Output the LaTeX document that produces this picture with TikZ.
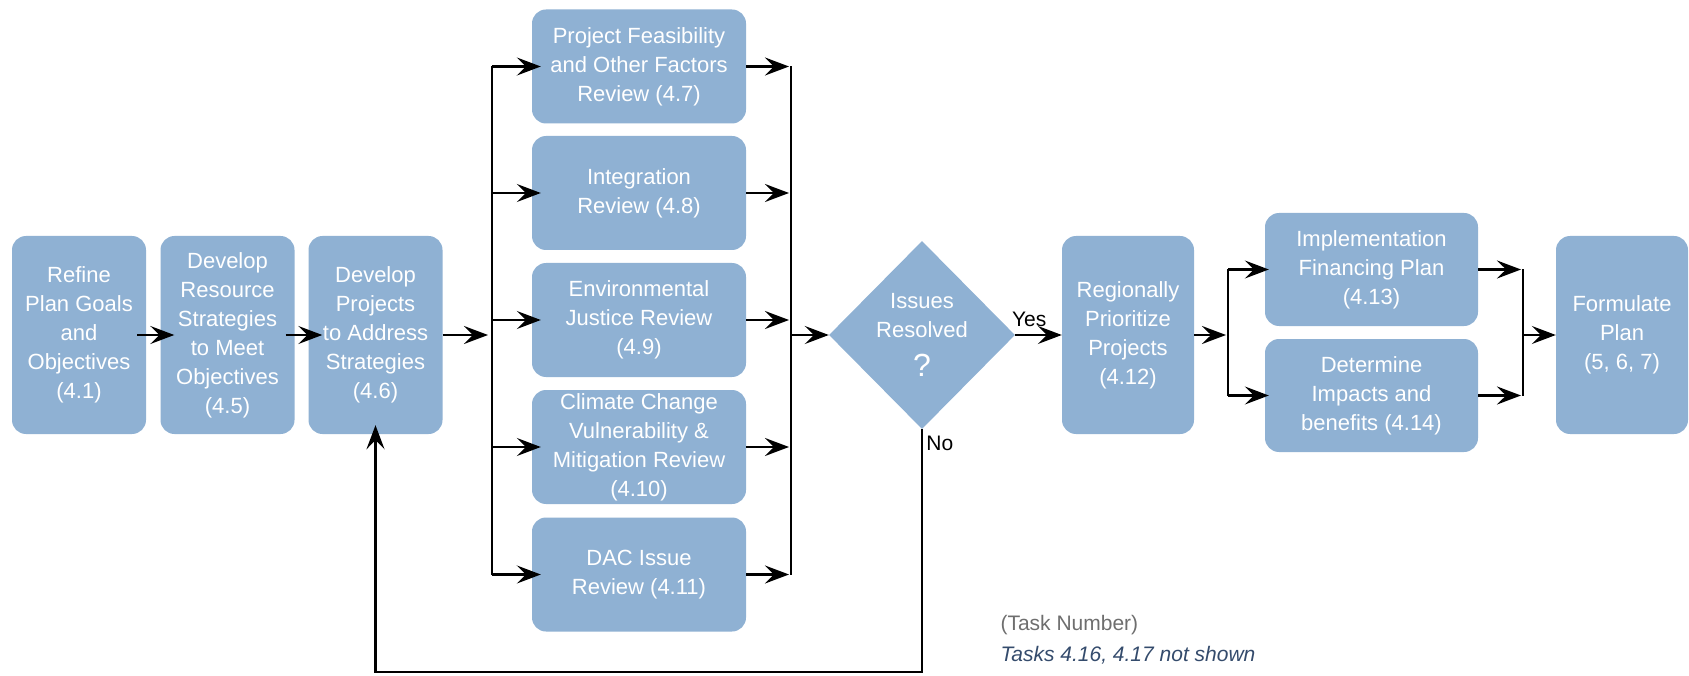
\documentclass[tikz,border=0pt]{standalone}
\usepackage{fontspec}
\setmainfont{Liberation Sans}
\usetikzlibrary{arrows.meta,shapes.geometric}
\definecolor{taskblue}{RGB}{143,177,211}
\definecolor{notegray}{RGB}{110,110,110}
\definecolor{notenavy}{RGB}{52,75,108}

\begin{document}
\begin{tikzpicture}[x=1pt,y=-1pt]
      \tikzset{
        task/.style = {rectangle, rounded corners=14pt, fill=taskblue, text=white,
          align=center, inner sep=0pt, font=\fontsize{22}{29}\selectfont},
        tall/.style = {task, minimum width=134pt, minimum height=198pt},
        wide/.style = {task, minimum width=214pt, minimum height=114pt},
        decide/.style = {diamond, fill=taskblue, text=white, align=center,
          inner sep=0pt, minimum width=186pt, minimum height=188pt,
          font=\fontsize{22}{29}\selectfont},
        link/.style = {line width=2.2pt, -{Stealth[length=24pt,width=18pt,inset=9pt]}},
        into/.style = {link, shorten >=-9pt},
        rail/.style = {line width=2.2pt},
        tag/.style = {font=\fontsize{21}{25}\selectfont}
      }
      \useasboundingbox (0,0) rectangle (1689,676);
      \node[tall] (p41) at (79,335) {Refine\\Plan Goals\\and\\Objectives\\(4.1)};
      \node[tall] (p45) at (227.5,335) {Develop\\Resource\\Strategies\\to Meet\\Objectives\\(4.5)};
      \node[tall] (p46) at (375.5,335) {Develop\\Projects\\to Address\\Strategies\\(4.6)};
      \node[wide] (r47) at (639,66.5) {Project Feasibility\\and Other Factors\\Review (4.7)};
      \node[wide] (r48) at (639,193) {Integration\\Review (4.8)};
      \node[wide] (r49) at (639,320) {Environmental\\Justice Review\\(4.9)};
      \node[wide] (r410) at (639,447) {Climate Change\\Vulnerability \&\\Mitigation Review\\(4.10)};
      \node[wide] (r411) at (639,574.5) {DAC Issue\\Review (4.11)};
      \node[decide] (dec) at (922,335) {Issues\\Resolved\\[10pt]{\fontsize{32}{32}\selectfont ?}};
      \node[tall, minimum width=132pt] (p412) at (1128,335) {Regionally\\Prioritize\\Projects\\(4.12)};
      \node[wide, minimum width=213pt, minimum height=113pt] (p413) at (1371.5,269.5) {Implementation\\Financing Plan\\(4.13)};
      \node[wide, minimum width=213pt, minimum height=113pt] (p414) at (1371.5,395.5) {Determine\\Impacts and\\benefits (4.14)};
      \node[tall, minimum width=132pt] (p5) at (1622,335) {Formulate\\Plan\\(5, 6, 7)};
      \node[tag, text=notegray, anchor=west] (legend) at (997,625) {(Task Number)};
      \node[tag, text=notenavy, font=\fontsize{21}{25}\selectfont\itshape, anchor=west] (omit) at (997,655) {Tasks 4.16, 4.17 not shown};
      \coordinate (fork) at (492,335);
      \coordinate (merge) at (791,335);
      \coordinate (fork2) at (1228,335);
      \coordinate (merge2) at (1523,335);
      \coordinate (back) at (0,672);
      \draw[into, shorten <=-9pt, shorten >=-14pt] (p41) -- (p45);
      \draw[into, shorten <=-9pt, shorten >=-14pt] (p45) -- (p46);
      \draw[link, shorten >=4pt] (p46) -- (fork);
      \draw[rail] (fork |- r47) -- (fork |- r411);
      \draw[rail] (merge |- r47) -- (merge |- r411);
      \foreach \r in {r47,r48,r49,r410,r411} {
        \draw[into] (fork |- \r) -- (\r);
        \draw[link, shorten >=2pt] (\r) -- (merge |- \r);
      }
      \draw[link] (merge) -- (dec);
      \draw[link] (dec) -- node[tag, pos=0.3, above=4pt] {Yes} (p412);
      \draw[into] (dec.south) -- node[tag, pos=0.06, right] {No} (dec.south |- back) -| (p46.south);
      \draw[link, shorten >=2pt] (p412) -- (fork2);
      \draw[rail] (fork2 |- p413) -- (fork2 |- p414);
      \draw[rail] (merge2 |- p413) -- (merge2 |- p414);
      \foreach \r in {p413,p414} {
        \draw[link, shorten >=-4pt] (fork2 |- \r) -- (\r);
        \draw[link, shorten >=2pt] (\r) -- (merge2 |- \r);
      }
      \draw[link] (merge2) -- (p5);
\end{tikzpicture}
\end{document}
